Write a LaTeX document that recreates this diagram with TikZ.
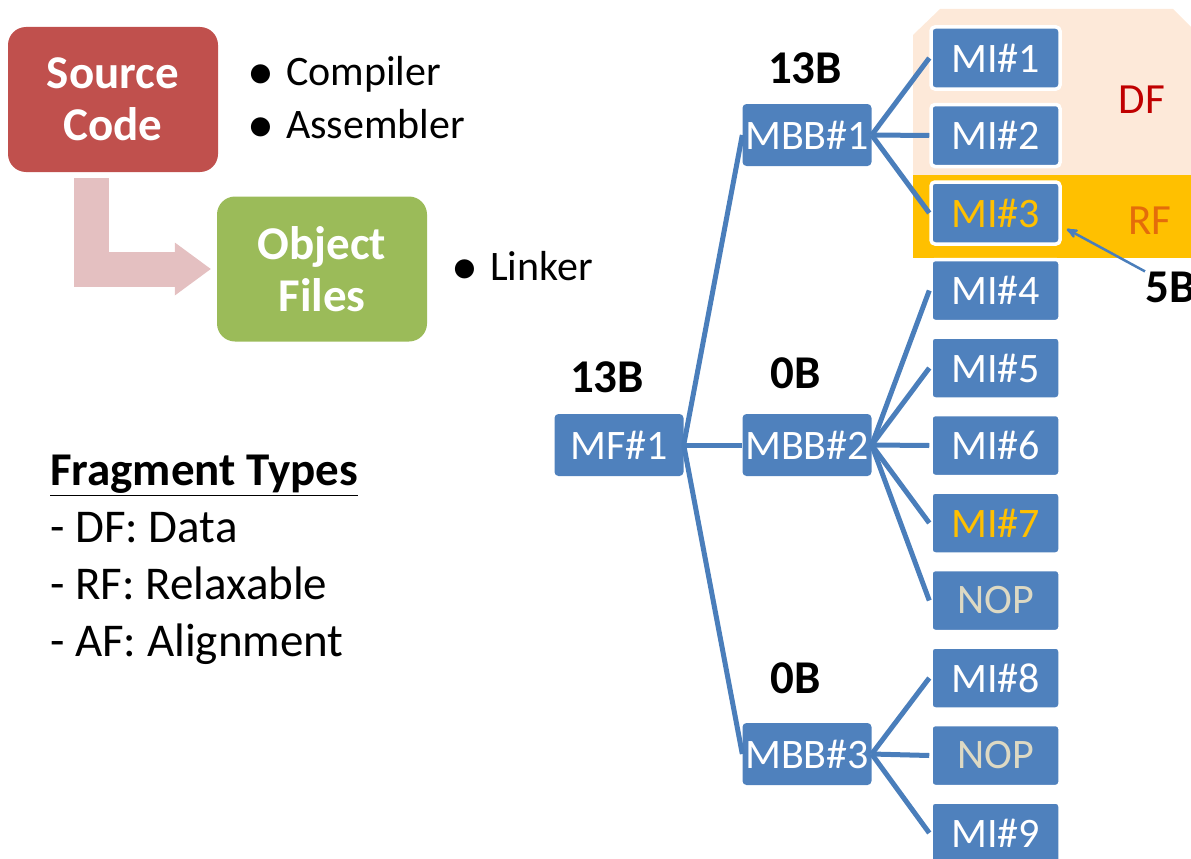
\documentclass[tikz,border=0pt]{standalone}
\usepackage{fontspec}
\setmainfont{Carlito}
\usetikzlibrary{arrows,arrows.meta}
\definecolor{boxblue}{HTML}{4F81BD}
\definecolor{lineblue}{HTML}{4A7EBB}
\definecolor{srcred}{HTML}{C0504D}
\definecolor{objgreen}{HTML}{9BBB59}
\definecolor{flowpink}{HTML}{E4C0C1}
\definecolor{dfpeach}{HTML}{FDE9D9}
\definecolor{rfgold}{HTML}{FFC000}
\definecolor{dfred}{HTML}{C00000}
\definecolor{rforange}{HTML}{E46C0A}
\definecolor{nopgray}{HTML}{DDD9C3}
\newcommand{\bigbullet}{\raisebox{-4pt}{\fontsize{54}{50}\selectfont\textbullet}}

\begin{document}
\begin{tikzpicture}[x=1pt,y=-1pt,
    frag/.style={fill=boxblue,rounded corners=4pt,minimum width=129pt,minimum height=62pt,
      inner sep=0pt,text=white,font=\fontsize{42}{50}\selectfont},
    inst/.style={frag,draw=white,line width=3.5pt},
    bigbox/.style={fill=#1,rounded corners=18pt,minimum width=210pt,minimum height=145pt,
      text=white,align=center,font=\fontsize{47}{52}\selectfont\bfseries},
    bytes/.style={inner sep=0pt,font=\fontsize{47}{50}\selectfont\bfseries},
    tool/.style={anchor=base west,inner sep=0pt,font=\fontsize{42}{50}\selectfont},
    link/.style={draw=lineblue,line width=5pt}]
\useasboundingbox (0,0) rectangle (1191,859);

% DF and RF regions behind the instructions
\fill[dfpeach] (913,175) -- (913,35) -- (940,9) -- (1173,9) -- (1191,27) -- (1191,175) -- cycle;
\fill[rfgold] (913,175) rectangle (1191,258);
\node[text=dfred,font=\fontsize{43}{50}\selectfont] (df) at (1142,100) {DF};
\node[text=rforange,font=\fontsize{43}{50}\selectfont] (rf) at (1150,221) {RF};

% toolchain
\node[bigbox=srcred] (src) at (113,99.5) {Source\\Code};
\node[bigbox=objgreen] (obj) at (322,269) {Object\\Files};
\draw[flowpink,line width=35pt,-{Triangle[length=36pt,width=53pt,line width=0pt]},shorten >=6pt]
  ([xshift=-22pt,yshift=-6pt]src.south) |- (obj.west);
\node[tool] (comp) at (247,85) {\bigbullet\hspace{12pt}Compiler};
\node[tool] (asm) at (247,138) {\bigbullet\hspace{12pt}Assembler};
\node[tool] (link) at (451,280) {\bigbullet\hspace{12pt}Linker};

\node[anchor=north west,inner sep=0pt,align=left,font=\fontsize{47}{57}\selectfont] (types) at (50,455)
  {\textbf{\underline{Fragment Types}}\\- DF: Data\\- RF: Relaxable\\- AF: Alignment};

% fragment tree
\node[frag] (mf1) at (619,445) {MF\#1};
\node[frag] (mbb1) at (807,135) {MBB\#1};
\node[frag] (mbb2) at (807,445) {MBB\#2};
\node[frag] (mbb3) at (807,754) {MBB\#3};
\foreach \n/\lbl/\col [count=\i from 0] in {mi1/MI\#1/white,mi2/MI\#2/white,mi3/MI\#3/rfgold,
    mi4/MI\#4/white,mi5/MI\#5/white,mi6/MI\#6/white,mi7/MI\#7/rfgold,nopa/NOP/nopgray,
    mi8/MI\#8/white,nopb/NOP/nopgray,mi9/MI\#9/white}
  \node[inst,text=\col] (\n) at (995.5,58+77.5*\i) {\lbl};

\foreach \n in {mbb1,mbb2,mbb3}
  \draw[link] (mf1.east) -- (\n.west);
\foreach \n in {mi1,mi2,mi3}
  \draw[link] (mbb1.east) -- (\n.west);
\foreach \n in {mi4,mi5,mi6,mi7,nopa}
  \draw[link] (mbb2.east) -- (\n.west);
\foreach \n in {mi8,nopb,mi9}
  \draw[link] (mbb3.east) -- (\n.west);

% sizes
\node[bytes] (sz0) at (607,377) {13B};
\node[bytes] (sz1) at (805,68) {13B};
\node[bytes] (sz2) at (796,373) {0B};
\node[bytes] (sz3) at (796,678) {0B};
\node[bytes,anchor=west] (sz4) at (1145,287) {5B};
\draw[->,>=stealth',lineblue,line width=2.5pt] (sz4.north west) -- ([xshift=5pt,yshift=-16pt]mi3.east);
\end{tikzpicture}
\end{document}
